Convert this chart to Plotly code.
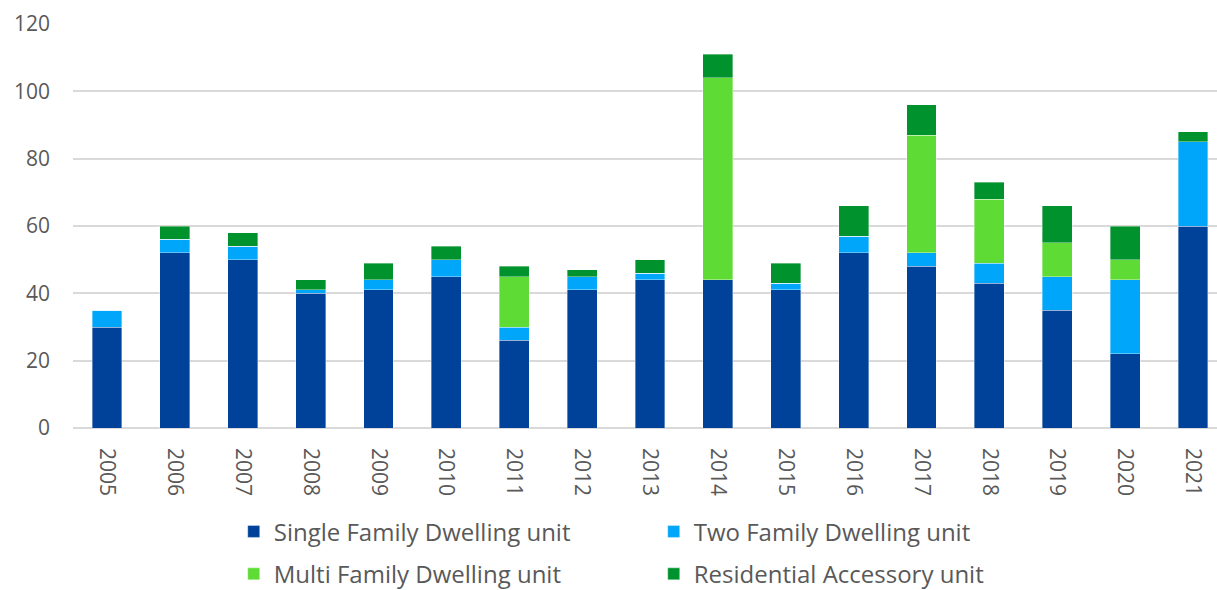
import plotly.graph_objects as go

years = [str(y) for y in range(2005, 2022)]
single_family = [30, 52, 50, 40, 41, 45, 26, 41, 44, 44, 41, 52, 48, 43, 35, 22, 60]
two_family = [5, 4, 4, 1, 3, 5, 4, 4, 2, 0, 2, 5, 4, 6, 10, 22, 25]
multi_family = [0, 0, 0, 0, 0, 0, 15, 0, 0, 60, 0, 0, 35, 19, 10, 6, 0]
accessory = [0, 4, 4, 3, 5, 4, 3, 2, 4, 7, 6, 9, 9, 5, 11, 10, 3]

series = [
    ("Single Family Dwelling unit", single_family, "#004299", "legend"),
    ("Two Family Dwelling unit", two_family, "#00A6FA", "legend"),
    ("Multi Family Dwelling unit", multi_family, "#5EDC35", "legend2"),
    ("Residential Accessory unit", accessory, "#00922D", "legend2"),
]

fig = go.Figure()
for name, vals, color, leg in series:
    fig.add_trace(go.Bar(
        x=years, y=vals, name=name, legend=leg,
        marker=dict(color=color, line=dict(width=0.6, color="rgba(255,255,255,0.6)")),
    ))

font_family = "Open Sans, Arial, sans-serif"
legend_style = dict(
    orientation="h", xanchor="left", yanchor="middle", traceorder="normal",
    font=dict(size=24, color="#595959", family=font_family),
    entrywidth=375, bgcolor="rgba(0,0,0,0)", itemwidth=30,
)

fig.update_layout(
    width=1217, height=590,
    margin=dict(l=73, r=0, t=24, b=162, autoexpand=False),
    barmode="stack", bargap=0.56,
    plot_bgcolor="white", paper_bgcolor="white",
    font=dict(family=font_family, color="#595959"),
    xaxis=dict(
        type="category", range=[-0.5, 16.354], automargin=False,
        tickangle=90, tickfont=dict(size=21, color="#595959"),
        showgrid=False, showline=False, ticks="", ticklabelstandoff=19,
    ),
    yaxis=dict(
        range=[0, 120], dtick=20, tickfont=dict(size=21, color="#595959"),
        showgrid=True, gridcolor="#D9D9D9", gridwidth=1.5, automargin=False,
        zeroline=True, zerolinecolor="#D9D9D9", zerolinewidth=1.5,
        ticklabelstandoff=22, showline=False,
    ),
    legend=dict(x=0.1405, y=-0.257, **legend_style),
    legend2=dict(x=0.1405, y=-0.362, **legend_style),
    showlegend=True,
)

fig.write_html("out.html")
